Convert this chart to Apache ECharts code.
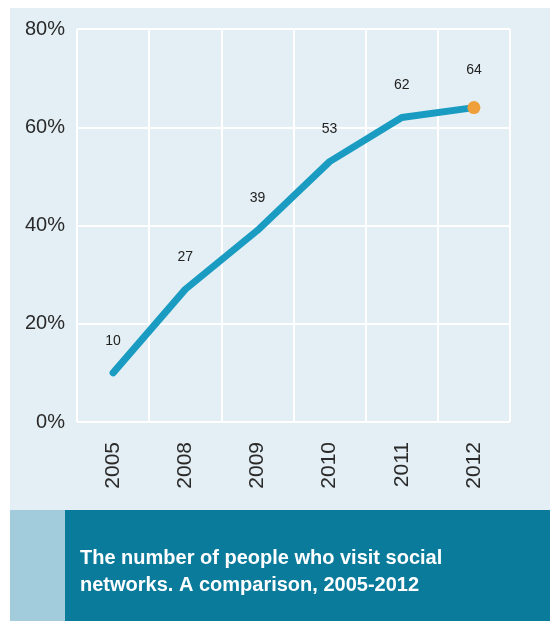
<!DOCTYPE html>
<html><head><meta charset="utf-8">
<script src="https://cdn.jsdelivr.net/npm/echarts@6/dist/echarts.min.js"></script>
<style>html,body{margin:0;padding:0;background:#fff}#c{width:550px;height:621px}</style>
</head><body><div id="c"></div>
<script>
const categories = ['2005','2008','2009','2010','2011','2012'];
const values = [10, 27, 39, 53, 62, 64];
const yTicks = [0, 20, 40, 60, 80];
const captionLines = ['The number of people who visit social', 'networks. A comparison, 2005-2012'];

const chart = echarts.init(document.getElementById('c'), null, {renderer:'canvas'});
const lastIdx = values.length - 1;
const FONT = '"Liberation Sans", Arial, sans-serif';
chart.setOption({
  animation: false,
  backgroundColor: '#ffffff',
  graphic: [
    {type:'rect', z:-10, shape:{x:10,y:8,width:540,height:502}, style:{fill:'#e3eff4'}},
    {type:'rect', z:-10, shape:{x:10,y:510,width:55,height:111}, style:{fill:'#a2cbdc'}},
    {type:'rect', z:-10, shape:{x:65,y:510,width:485,height:111}, style:{fill:'#0b7b9c'}},
    {type:'text', left:80, top:545, style:{text: captionLines.join('\n'), fill:'#ffffff', font:'bold 20px ' + FONT, lineHeight:27}}
  ],
  grid: {left:77, right:40, top:29, bottom:199},
  xAxis: {
    type:'category', data: categories, boundaryGap:true,
    axisLine:{show:false}, axisTick:{show:false},
    splitLine:{show:true, lineStyle:{color:'#ffffff', width:2}},
    axisLabel:{rotate:90, interval:0, margin:20, color:'#2a2a2a', fontSize:21, fontFamily:FONT}
  },
  yAxis: {
    type:'value', min:0, max:80, interval:20,
    axisLine:{show:false}, axisTick:{show:false},
    splitLine:{lineStyle:{color:'#ffffff', width:2}},
    axisLabel:{formatter: v => yTicks.includes(v) ? v + '%' : '', margin:12, color:'#2a2a2a', fontSize:20, fontFamily:FONT}
  },
  series: [{
    type:'line',
    data: values.map((v,i)=> i===lastIdx
      ? {value:v, symbol:'circle', symbolSize:13, itemStyle:{color:'#f0a03a'}}
      : {value:v, symbol:'circle', symbolSize:2}),
    showSymbol:true,
    lineStyle:{color:'#1a9cc2', width:7, cap:'round', join:'round'},
    itemStyle:{color:'#1a9cc2'},
    label:{show:true, position:'top', distance:24, color:'#222', fontSize:14, fontFamily:FONT}
  }]
});
</script></body></html>
